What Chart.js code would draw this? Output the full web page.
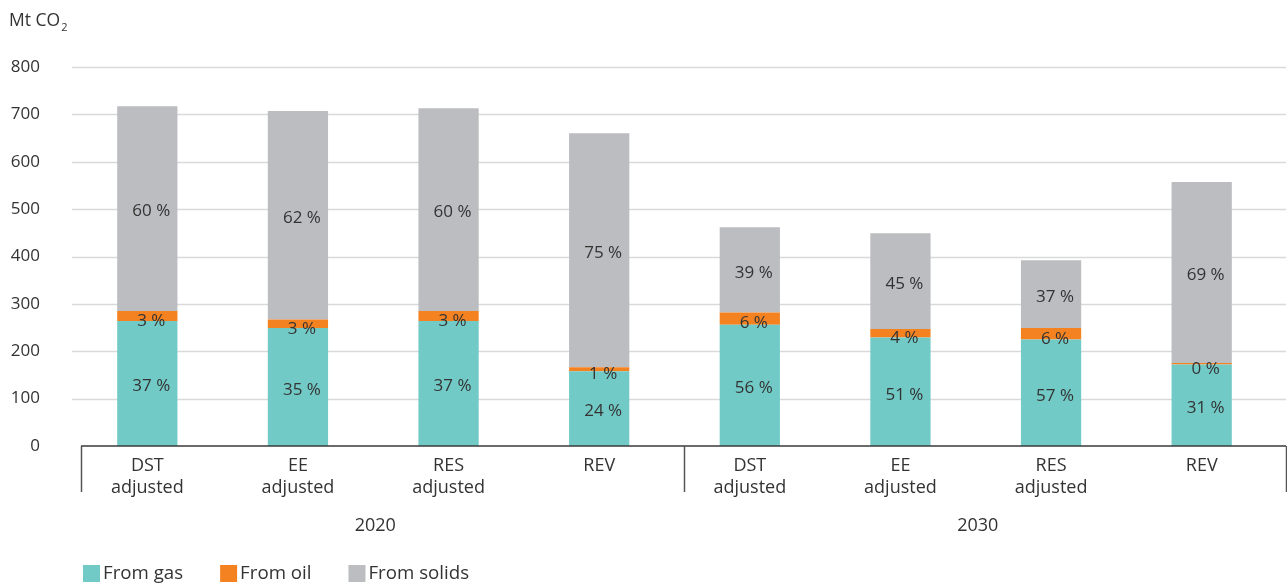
<!DOCTYPE html>
<html>
<head>
<meta charset="utf-8">
<script src="https://cdn.jsdelivr.net/npm/chart.js@4.4.1/dist/chart.umd.min.js"></script>
<style>
  html, body { margin: 0; padding: 0; background: #fff; }
  #wrap { width: 1287px; height: 587px; position: relative; }
</style>
</head>
<body>
<div id="wrap"><canvas id="chart"></canvas></div>
<script>
// datos
const categorias = [['DST', 'adjusted'], ['EE', 'adjusted'], ['RES', 'adjusted'], ['REV'],
                    ['DST', 'adjusted'], ['EE', 'adjusted'], ['RES', 'adjusted'], ['REV']];
const grupos = ['2020', '2030'];
const porGrupo = 4;

const gas    = [264, 249, 264, 158, 256, 229, 225, 172];
const oil    = [21, 18, 21, 8, 26, 18, 24, 3];
const solids = [432, 440, 428, 494, 180, 202, 143, 382];

const gasPct    = ['37 %', '35 %', '37 %', '24 %', '56 %', '51 %', '57 %', '31 %'];
const oilPct    = ['3 %', '3 %', '3 %', '1 %', '6 %', '4 %', '6 %', '0 %'];
const solidsPct = ['60 %', '62 %', '60 %', '75 %', '39 %', '45 %', '37 %', '69 %'];

const yMin = 0, yMax = 800, yStep = 100;
const unidad = 'Mt CO';

const FONT = '"Open Sans", "Noto Sans", sans-serif';
const TXT = '#333333';

const pctLabels = [gasPct, oilPct, solidsPct];

// dibuja rejilla, ejes, grupos, etiquetas y leyenda
const decoraciones = {
  id: 'decoraciones',
  beforeDatasetsDraw(chart) {
    const { ctx, chartArea, scales: { y } } = chart;
    ctx.save();
    ctx.strokeStyle = '#d9d9d9';
    ctx.lineWidth = 1.3;
    y.ticks.forEach(t => {
      if (t.value === yMin) return;
      const py = Math.round(y.getPixelForValue(t.value)) + 0.5;
      ctx.beginPath();
      ctx.moveTo(chartArea.left, py);
      ctx.lineTo(chartArea.right + 9, py);
      ctx.stroke();
    });
    ctx.restore();
  },
  afterDatasetsDraw(chart) {
    const { ctx, chartArea, scales: { x, y } } = chart;
    ctx.save();

    // porcentajes dentro de las barras
    ctx.font = '17px ' + FONT;
    ctx.fillStyle = TXT;
    ctx.textAlign = 'center';
    ctx.textBaseline = 'middle';
    chart.data.datasets.forEach((ds, i) => {
      chart.getDatasetMeta(i).data.forEach((bar, j) => {
        const cy = (bar.y + bar.base) / 2 + (i === 1 ? 5 : 3);
        ctx.fillText(pctLabels[i][j], bar.x + 4, cy);
      });
    });

    // eje x y separadores
    const base = Math.round(y.getPixelForValue(0));
    const paso = (chartArea.right - chartArea.left) / categorias.length;
    ctx.strokeStyle = '#3a3a3a';
    ctx.lineWidth = 1.5;
    ctx.beginPath();
    ctx.moveTo(chartArea.left + 9, base);
    ctx.lineTo(chartArea.right + 9, base);
    ctx.stroke();
    ctx.strokeStyle = '#555';
    for (let g = 0; g <= grupos.length; g++) {
      const px = Math.round(chartArea.left + g * porGrupo * paso + 9) + 0.5;
      ctx.beginPath();
      ctx.moveTo(px, base);
      ctx.lineTo(px, base + 46);
      ctx.stroke();
    }

    // nombres de grupo
    ctx.font = '18px ' + FONT;
    ctx.fillStyle = TXT;
    grupos.forEach((g, k) => {
      const a = x.getPixelForValue(k * porGrupo);
      const b = x.getPixelForValue(k * porGrupo + porGrupo - 1);
      ctx.fillText(g, (a + b) / 2 + 2, base + 80);
    });

    // titulo del eje y
    ctx.textAlign = 'left';
    ctx.textBaseline = 'alphabetic';
    ctx.font = '17.5px ' + FONT;
    ctx.fillText(unidad, 9, 26);
    const w = ctx.measureText(unidad).width;
    ctx.font = '11px ' + FONT;
    ctx.fillText('2', 9 + w + 1, 31);

    // leyenda
    let cx = chartArea.left + 11;
    const ly = 565;
    ctx.font = '18.7px ' + FONT;
    ctx.textBaseline = 'middle';
    chart.data.datasets.forEach(ds => {
      ctx.fillStyle = ds.backgroundColor;
      ctx.fillRect(cx, ly, 17, 17);
      ctx.fillStyle = TXT;
      ctx.fillText(ds.label, cx + 20, ly + 9);
      cx += 20 + ctx.measureText(ds.label).width + 37;
    });

    ctx.restore();
  }
};

new Chart(document.getElementById('chart'), {
  type: 'bar',
  data: {
    labels: categorias,
    datasets: [
      { label: 'From gas', data: gas, backgroundColor: '#72cac6' },
      { label: 'From oil', data: oil, backgroundColor: '#f58220' },
      { label: 'From solids', data: solids, backgroundColor: '#bcbdc1' }
    ]
  },
  options: {
    responsive: true,
    maintainAspectRatio: false,
    animation: false,
    layout: { padding: { top: 67, right: 10, bottom: 0, left: 0 } },
    datasets: { bar: { categoryPercentage: 1, barPercentage: 0.4 } },
    plugins: { legend: { display: false }, tooltip: { enabled: false } },
    scales: {
      x: {
        stacked: true,
        grid: { display: false, drawTicks: false },
        border: { display: false },
        ticks: { color: TXT, font: { family: FONT, size: 18 }, padding: 9, maxRotation: 0, autoSkip: false },
        afterFit: s => { s.height = 141; }
      },
      y: {
        stacked: true,
        min: yMin, max: yMax,
        grid: { display: false, drawTicks: false },
        border: { display: false },
        ticks: { stepSize: yStep, color: TXT, font: { family: FONT, size: 17 }, padding: 32 },
        afterFit: s => { s.width = 72; }
      }
    }
  },
  plugins: [decoraciones]
});
</script>
</body>
</html>
